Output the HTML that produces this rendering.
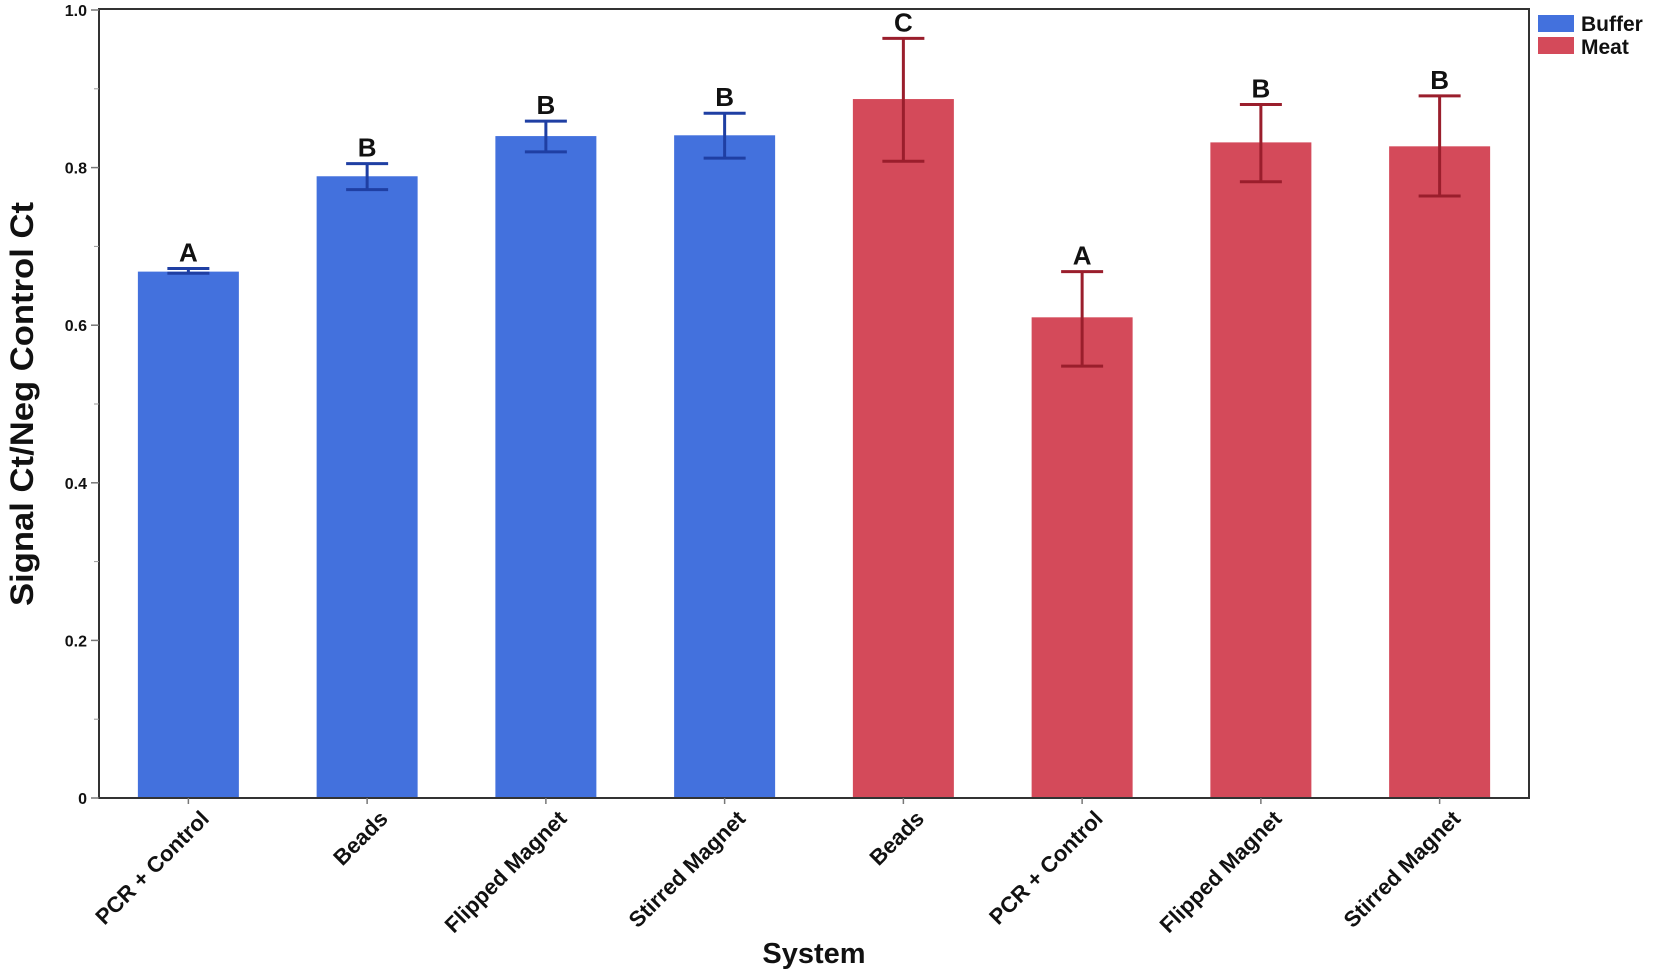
<!DOCTYPE html>
<html><head><meta charset="utf-8"><style>
html,body{margin:0;padding:0;background:#fff;}
svg text{font-family:"Liberation Sans",Arial,sans-serif;font-weight:bold;}
</style></head><body>
<svg id="chart" width="1654" height="973" viewBox="0 0 1654 973" xmlns="http://www.w3.org/2000/svg">
<rect x="0" y="0" width="1654" height="973" fill="#fff"/>
<g id="plot"></g>
<text x="22" y="404" transform="rotate(-90 22 404)" text-anchor="middle" dominant-baseline="central" font-size="32" textLength="404" lengthAdjust="spacingAndGlyphs" fill="#111">Signal Ct/Neg Control Ct</text>
<text x="814" y="963" text-anchor="middle" font-size="29" fill="#111">System</text>
<g>
<rect x="1538" y="15" width="36" height="17" fill="#4371DD"/>
<text x="1581" y="31" font-size="21" fill="#111">Buffer</text>
<rect x="1538" y="37" width="36" height="17" fill="#D44A5A"/>
<text x="1581" y="54" font-size="21" fill="#111">Meat</text>
</g>
</svg>
<script>
const categories=["PCR + Control","Beads","Flipped  Magnet","Stirred Magnet","Beads","PCR + Control","Flipped Magnet","Stirred Magnet"];
const groups=["Buffer","Buffer","Buffer","Buffer","Meat","Meat","Meat","Meat"];
const values=[0.668,0.789,0.840,0.841,0.887,0.610,0.832,0.827];
const errUpper=[0.672,0.805,0.859,0.869,0.964,0.668,0.880,0.891];
const errLower=[0.666,0.772,0.820,0.812,0.808,0.548,0.782,0.764];
const letters=["A","B","B","B","C","A","B","B"];
const yTicks=[0,0.2,0.4,0.6,0.8,1.0];
const yTickLabels=["0","0.2","0.4","0.6","0.8","1.0"];

const NS="http://www.w3.org/2000/svg";
const L=99,R=1529,T=9,B=798;
const y=v=>B-(v/1.0)*(B-T-1);
const band=(R-L)/categories.length;
const xc=i=>L+band*(i+0.5);
const fill={Buffer:"#4371DD",Meat:"#D44A5A"};
const errC={Buffer:"#1F3FA3",Meat:"#9A1E2C"};
const g=document.getElementById('plot');
function mk(tag,attrs,parent){const e=document.createElementNS(NS,tag);for(const k in attrs)e.setAttribute(k,attrs[k]);(parent||g).appendChild(e);return e;}

values.forEach((v,i)=>{
  const w=101;
  const r=mk('rect',{x:xc(i)-w/2,y:y(v),width:w,height:B-y(v),fill:fill[groups[i]]});
  
  
  const eg=mk('g',{stroke:errC[groups[i]],'stroke-width':3,fill:'none'});
  
  
  mk('line',{x1:xc(i),x2:xc(i),y1:y(errUpper[i]),y2:y(errLower[i])},eg);
  mk('line',{x1:xc(i)-21,x2:xc(i)+21,y1:y(errUpper[i]),y2:y(errUpper[i])},eg);
  mk('line',{x1:xc(i)-21,x2:xc(i)+21,y1:y(errLower[i]),y2:y(errLower[i])},eg);
  const t=mk('text',{x:xc(i),y:y(errUpper[i])-7,'text-anchor':'middle','font-size':26,fill:'#111'});
  t.textContent=letters[i];
  
  
  const xl=mk('text',{x:0,y:0,'text-anchor':'end','font-size':22,fill:'#111',transform:`translate(${xc(i)+22},${B+22}) rotate(-45)`});
  xl.textContent=categories[i];
  
  
});
const fr=mk('rect',{x:L,y:T,width:R-L,height:B-T,fill:'none',stroke:'#333','stroke-width':2});


yTicks.forEach((v,i)=>{
  mk('line',{x1:L-8,x2:L,y1:y(v),y2:y(v),stroke:'#777','stroke-width':1.5});
  const t=mk('text',{x:L-12,y:y(v)+6,'text-anchor':'end','font-size':16,fill:'#111'});
  t.textContent=yTickLabels[i];
  
  
  if(i<yTicks.length-1){const m=(v+yTicks[i+1])/2;mk('line',{x1:L-5,x2:L,y1:y(m),y2:y(m),stroke:'#999','stroke-width':1});}
});
categories.forEach((c,i)=>mk('line',{x1:xc(i),x2:xc(i),y1:B,y2:B+6,stroke:'#777','stroke-width':1.5}));
</script>
</body></html>
